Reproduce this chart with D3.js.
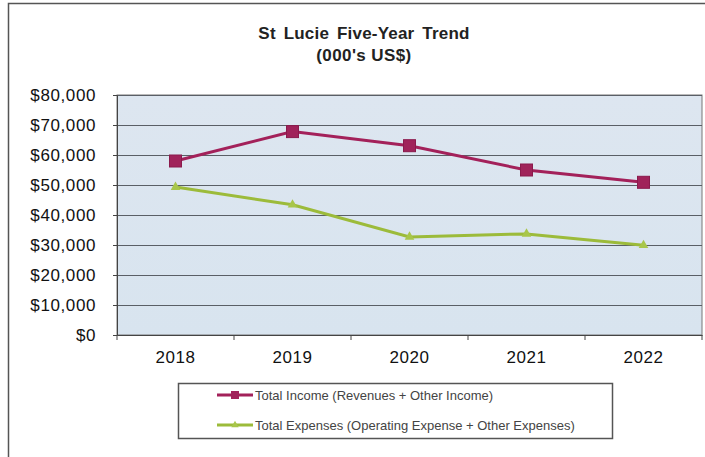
<!DOCTYPE html>
<html>
<head>
<meta charset="UTF-8">
<style>
  body { margin: 0; background: #fff; }
  svg { display: block; font-family: Arial, "Liberation Sans", sans-serif; }
</style>
<script src="https://d3js.org/d3.v7.min.js"></script>
</head>
<body>
<div id="chart"></div>
<script>
// data
var years = ["2018", "2019", "2020", "2021", "2022"];
var income = [58000, 67800, 63100, 55000, 50900];
var expenses = [49300, 43400, 32700, 33700, 29900];
var yTicks = [0, 10000, 20000, 30000, 40000, 50000, 60000, 70000, 80000];
var seriesNames = ["Total Income (Revenues + Other Income)", "Total Expenses (Operating Expense + Other Expenses)"];

var width = 705, height = 457;
var plotL = 117, plotR = 702, plotT = 95, plotB = 335;

var svg = d3.select("#chart").append("svg")
  .attr("width", width)
  .attr("height", height);

// outer frame
svg.append("rect")
  .attr("x", 8.5).attr("y", 3.5)
  .attr("width", 720).attr("height", 480)
  .attr("fill", "#fff")
  .attr("stroke", "#555").attr("stroke-width", 1.5);

// title
svg.append("text").attr("x", 364).attr("y", 39)
  .attr("text-anchor", "middle").attr("font-size", 17).attr("font-weight", "bold")
  .attr("word-spacing", 3).attr("letter-spacing", 0.2)
  .attr("fill", "#222").text("St Lucie Five-Year Trend");
svg.append("text").attr("x", 364).attr("y", 61)
  .attr("text-anchor", "middle").attr("font-size", 17).attr("font-weight", "bold")
  .attr("letter-spacing", 0.4)
  .attr("fill", "#222").text("(000's US$)");

var x = d3.scaleBand().domain(years).range([plotL, plotR]);
var y = d3.scaleLinear().domain([0, 80000]).range([plotB, plotT]);

// plot background
var grad = svg.append("defs").append("linearGradient")
  .attr("id", "bg").attr("x1", 0).attr("y1", 0).attr("x2", 0).attr("y2", 1);
grad.append("stop").attr("offset", "0%").attr("stop-color", "#dde6f0");
grad.append("stop").attr("offset", "100%").attr("stop-color", "#d8e4ef");

svg.append("rect")
  .attr("x", plotL).attr("y", plotT)
  .attr("width", plotR - plotL).attr("height", plotB - plotT)
  .attr("fill", "url(#bg)")
  .attr("stroke", "#777").attr("stroke-width", 1);

// gridlines
svg.append("g").selectAll("line")
  .data(yTicks.filter(function(d){ return d > 0; }))
  .enter().append("line")
  .attr("x1", plotL).attr("x2", plotR)
  .attr("y1", function(d){ return Math.round(y(d)) + 0.5; })
  .attr("y2", function(d){ return Math.round(y(d)) + 0.5; })
  .attr("stroke", "#5a5f66").attr("stroke-width", 1);

// y axis
var yAxis = svg.append("g")
  .attr("transform", "translate(" + plotL + ",0)")
  .call(d3.axisLeft(y).tickValues(yTicks).tickSize(4).tickPadding(17)
    .tickFormat(function(d){ return "$" + d3.format(",")(d); }));
yAxis.select(".domain").attr("stroke", "#444");
yAxis.selectAll(".tick line").attr("stroke", "#444");
yAxis.selectAll("text").attr("font-size", 17).attr("fill", "#111")
  .attr("letter-spacing", 0.6)
  .attr("font-family", "Arial, 'Liberation Sans', sans-serif");

// x axis
var xAxis = svg.append("g")
  .attr("transform", "translate(0," + plotB + ")")
  .call(d3.axisBottom(x).tickSize(0).tickPadding(16));
xAxis.select(".domain").attr("stroke", "#444");
xAxis.selectAll("text").attr("font-size", 17).attr("fill", "#111")
  .attr("letter-spacing", 0.5)
  .attr("font-family", "Arial, 'Liberation Sans', sans-serif");
svg.append("g").selectAll("line")
  .data(years.concat(["end"]))
  .enter().append("line")
  .attr("x1", function(d, i){ return plotL + i * x.bandwidth(); })
  .attr("x2", function(d, i){ return plotL + i * x.bandwidth(); })
  .attr("y1", plotB).attr("y2", plotB + 5)
  .attr("stroke", "#444");

var cx = function(d, i){ return x(years[i]) + x.bandwidth() / 2; };
var line = d3.line().x(cx).y(function(d){ return y(d); });

var incColor = "#a3215a", expColor = "#9cbb3a";

svg.append("path").datum(income)
  .attr("d", line).attr("fill", "none")
  .attr("stroke", incColor).attr("stroke-width", 3);
svg.append("g").selectAll("rect").data(income).enter().append("rect")
  .attr("x", function(d, i){ return cx(d, i) - 6; })
  .attr("y", function(d){ return y(d) - 6; })
  .attr("width", 12).attr("height", 12)
  .attr("fill", "#a0235a").attr("stroke", "#8a1a4c").attr("stroke-width", 1);

svg.append("path").datum(expenses)
  .attr("d", line).attr("fill", "none")
  .attr("stroke", expColor).attr("stroke-width", 3);
svg.append("g").selectAll("path").data(expenses).enter().append("path")
  .attr("d", d3.symbol().type(d3.symbolTriangle).size(40))
  .attr("transform", function(d, i){ return "translate(" + cx(d, i) + "," + y(d) + ")"; })
  .attr("fill", "#a8c64a");

// legend
var lg = svg.append("g");
lg.append("rect")
  .attr("x", 178.5).attr("y", 383.5).attr("width", 434).attr("height", 55)
  .attr("fill", "#fff").attr("stroke", "#555").attr("stroke-width", 1.5);
var items = lg.selectAll("g.item").data(seriesNames).enter().append("g")
  .attr("transform", function(d, i){ return "translate(217," + (395 + i * 30) + ")"; });
items.append("line").attr("x1", 0).attr("x2", 36).attr("y1", 0).attr("y2", 0)
  .attr("stroke", function(d, i){ return i ? expColor : incColor; }).attr("stroke-width", 3);
items.filter(function(d, i){ return i === 0; }).append("rect")
  .attr("x", 14).attr("y", -4).attr("width", 8).attr("height", 8).attr("fill", "#a0235a");
items.filter(function(d, i){ return i === 1; }).append("path")
  .attr("transform", "translate(18,0)")
  .attr("d", d3.symbol().type(d3.symbolTriangle).size(24)).attr("fill", "#a8c64a");
items.append("text").attr("x", 38).attr("y", 4.5)
  .attr("font-size", 13).attr("fill", "#444")
  .text(function(d){ return d; });
</script>
</body>
</html>
